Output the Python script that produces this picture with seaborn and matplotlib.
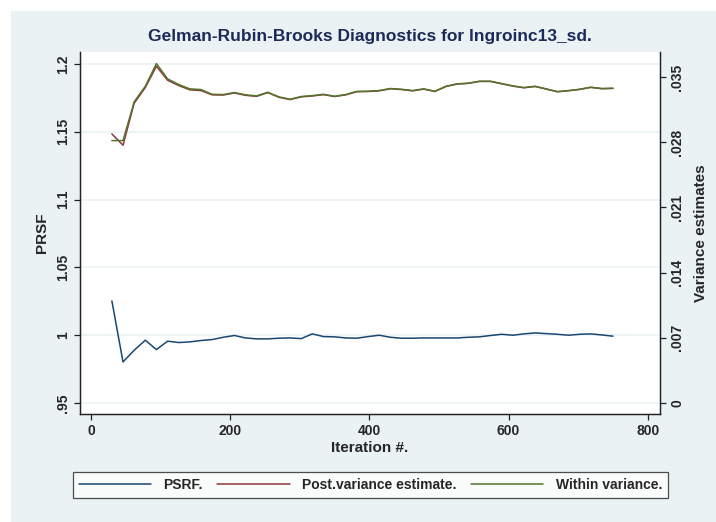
import matplotlib
matplotlib.use("Agg")
import matplotlib.pyplot as plt
from matplotlib.patches import Rectangle
import seaborn as sns
import pandas as pd

# iteration grid used for the diagnostic
iterations = [30, 46, 62, 78, 94, 110, 126, 142, 158, 174, 190, 206, 222, 238, 254, 270,
              286, 302, 318, 334, 350, 366, 382, 398, 414, 430, 446, 462, 478, 494, 510,
              526, 542, 558, 574, 590, 606, 622, 638, 654, 670, 686, 702, 718, 734, 750]

psrf = [1.0253, 0.9803, 0.9889, 0.9963, 0.9894, 0.9956, 0.9946, 0.9951, 0.9961, 0.9968,
        0.9985, 0.9998, 0.9980, 0.9973, 0.9973, 0.9978, 0.9980, 0.9975, 1.0010, 0.9990,
        0.9988, 0.9980, 0.9978, 0.9990, 1.0000, 0.9985, 0.9978, 0.9978, 0.9980, 0.9980,
        0.9980, 0.9980, 0.9985, 0.9988, 0.9998, 1.0007, 1.0000, 1.0010, 1.0017, 1.0012,
        1.0007, 1.0000, 1.0007, 1.0010, 1.0002, 0.9993]

post_var = [0.02889, 0.02767, 0.03218, 0.03386, 0.03615, 0.03465, 0.03408, 0.03362, 0.03354, 0.03308,
            0.03306, 0.03328, 0.03303, 0.03292, 0.03332, 0.03282, 0.03257, 0.03286, 0.03296, 0.03310,
            0.03290, 0.03308, 0.03342, 0.03344, 0.03351, 0.03373, 0.03365, 0.03351, 0.03370, 0.03344,
            0.03398, 0.03424, 0.03431, 0.03452, 0.03452, 0.03427, 0.03402, 0.03384, 0.03398, 0.03370,
            0.03341, 0.03352, 0.03366, 0.03388, 0.03374, 0.03377]

within_var = [0.02817, 0.02817, 0.03233, 0.03400, 0.03644, 0.03480, 0.03419, 0.03372, 0.03365, 0.03314,
              0.03311, 0.03333, 0.03308, 0.03297, 0.03336, 0.03286, 0.03261, 0.03290, 0.03300, 0.03314,
              0.03293, 0.03311, 0.03345, 0.03347, 0.03354, 0.03376, 0.03368, 0.03354, 0.03372, 0.03347,
              0.03400, 0.03426, 0.03433, 0.03454, 0.03454, 0.03429, 0.03404, 0.03386, 0.03400, 0.03372,
              0.03343, 0.03354, 0.03368, 0.03390, 0.03376, 0.03379]

left_ticks = [0.95, 1.0, 1.05, 1.1, 1.15, 1.2]
left_labels = ['.95', '1', '1.05', '1.1', '1.15', '1.2']
right_ticks = [0, 0.007, 0.014, 0.021, 0.028, 0.035]
right_labels = ['0', '.007', '.014', '.021', '.028', '.035']
x_ticks = [0, 200, 400, 600, 800]

df = pd.DataFrame({'iter': iterations, 'psrf': psrf,
                   'post': post_var, 'within': within_var})

sns.set_style('ticks')
plt.rcParams['font.family'] = ['Liberation Sans Narrow', 'Liberation Sans', 'DejaVu Sans']
plt.rcParams['font.weight'] = 'bold'

BG = '#eaf2f3'
NAVY = '#1a476f'
MAROON = '#90353b'
GREEN = '#55752f'

fig = plt.figure(figsize=(7.16, 5.22), dpi=100)
fig.patch.set_facecolor('white')
fig.add_artist(Rectangle((11 / 716, 0), 1, 1 - 11 / 522, transform=fig.transFigure,
                         facecolor=BG, edgecolor='none', zorder=-10))

ax = fig.add_axes([80 / 716, 1 - 414 / 522, 580 / 716, 362 / 522])
ax.set_facecolor('white')
ax2 = ax.twinx()

sns.lineplot(data=df, x='iter', y='psrf', ax=ax, color=NAVY, lw=1.1, legend=False)
sns.lineplot(data=df, x='iter', y='post', ax=ax2, color=MAROON, lw=1.1, legend=False)
sns.lineplot(data=df, x='iter', y='within', ax=ax2, color=GREEN, lw=1.1, legend=False)

ax.set_xlim(-15.8, 817.5)
ax.set_ylim(0.9419, 1.2089)
ax2.set_ylim(-0.00118, 0.03768)

ax.set_xticks(x_ticks)
ax.set_xticklabels([str(t) for t in x_ticks])
ax.set_yticks(left_ticks)
ax.set_yticklabels(left_labels, rotation=90, va='center')
ax2.set_yticks(right_ticks)
ax2.set_yticklabels(right_labels, rotation=90, va='center')

ax.grid(axis='y', color=BG, lw=1.2)
ax.set_axisbelow(True)

for a in (ax, ax2):
    a.spines['top'].set_visible(False)
    for s in ('left', 'right', 'bottom'):
        a.spines[s].set_color('#222222')
        a.spines[s].set_linewidth(0.9)
    a.tick_params(length=4.3, width=0.9, color='#222222', labelsize=10, pad=3)

ax.set_xlabel('Iteration #.', fontsize=11, fontweight='bold', labelpad=2)
ax.set_ylabel('PRSF', fontsize=11, fontweight='bold', labelpad=5)
ax2.set_ylabel('Variance estimates', fontsize=11, fontweight='bold', labelpad=7)

fig.suptitle('Gelman-Rubin-Brooks Diagnostics for lngroinc13_sd.', x=370 / 716,
             y=1 - 36 / 522, va='center', fontsize=12.5, fontweight='bold', color='#1c2a58')

handles = [ax.lines[0], ax2.lines[0], ax2.lines[1]]
labels = ['PSRF.', 'Post.variance estimate.', 'Within variance.']
leg = fig.legend(handles, labels, loc='center', ncol=3, mode='expand',
                 bbox_to_anchor=(73 / 716, 1 - 503 / 522, 595 / 716, 36 / 522),
                 handlelength=5.2, handletextpad=0.9, fancybox=False, frameon=True,
                 borderaxespad=0, prop={'size': 10, 'weight': 'bold'})
leg.get_frame().set_edgecolor('#222222')
leg.get_frame().set_linewidth(0.9)
leg.get_frame().set_facecolor('white')

fig.savefig('out.png', dpi=100, facecolor=fig.get_facecolor())
